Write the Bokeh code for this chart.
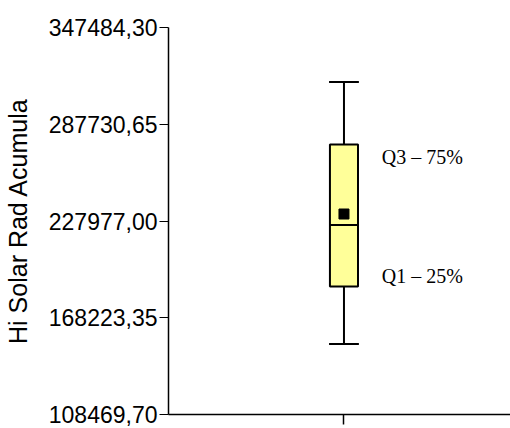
from bokeh.plotting import figure
from bokeh.models import Range1d, FixedTicker
from bokeh.embed import file_html
from bokeh.resources import INLINE
from bokeh.core.properties import value

# ---- data ----
y_ticks = [108469.70, 168223.35, 227977.00, 287730.65, 347484.30]
y_tick_labels = ["108469,70", "168223,35", "227977,00", "287730,65", "347484,30"]
y_title = "Hi Solar Rad Acumula"

box_x = [1.0]
whisker_low = [151980]
q1 = [187530]
median = [225500]
mean = [232300]
q3 = [275170]
whisker_high = [313780]

ann_text = ["Q3 – 75%", "Q1 – 25%"]
ann_y = [267200, 194300]

# ---- styling / layout ----
BOX_W = 0.16
CAP_W = 0.17
ANN_DX = 0.215

p = figure(width=510, height=428, output_backend="svg", toolbar_location=None,
           x_range=Range1d(0, 1.949), y_range=Range1d(y_ticks[0], y_ticks[-1]),
           min_border_left=167, min_border_right=0, min_border_top=27,
           min_border_bottom=14)
p.outline_line_color = None
p.xgrid.visible = False
p.ygrid.visible = False
p.background_fill_color = "white"
p.border_fill_color = "white"

# y axis
yax = p.yaxis[0]
yax.ticker = FixedTicker(ticks=y_ticks)
yax.major_label_overrides = {t: l for t, l in zip(y_ticks, y_tick_labels)}
yax.major_label_text_font = "Liberation Sans"
yax.major_label_text_font_size = "23px"
yax.major_label_text_color = "black"
yax.major_label_standoff = 2
yax.major_tick_out = 9
yax.major_tick_in = 0
yax.minor_tick_out = 0
yax.minor_tick_in = 0
yax.major_tick_line_color = "black"
yax.axis_line_color = "black"
yax.axis_line_width = 1.5
yax.axis_label = y_title
yax.axis_label_text_font = "Liberation Sans"
yax.axis_label_text_font_size = "25px"
yax.axis_label_text_font_style = "normal"
yax.axis_label_text_color = "black"
yax.axis_label_text_line_height = 1.0
yax.axis_label_standoff = 14

# x axis
xax = p.xaxis[0]
xax.ticker = FixedTicker(ticks=box_x)
xax.major_label_overrides = {box_x[0]: ""}
xax.major_label_text_font_size = "0px"
xax.major_label_standoff = 0
xax.major_tick_out = 10
xax.major_tick_in = 0
xax.minor_tick_out = 0
xax.minor_tick_in = 0
xax.major_tick_line_color = "black"
xax.major_tick_line_width = 1.5
xax.axis_line_color = "black"
xax.axis_line_width = 1.5

x0 = [x - CAP_W / 2 for x in box_x]
x1 = [x + CAP_W / 2 for x in box_x]

# whiskers
p.segment(x0=box_x, y0=q3, x1=box_x, y1=whisker_high, line_color="black", line_width=2)
p.segment(x0=box_x, y0=q1, x1=box_x, y1=whisker_low, line_color="black", line_width=2)
p.segment(x0=x0, y0=whisker_high, x1=x1, y1=whisker_high, line_color="black", line_width=2)
p.segment(x0=x0, y0=whisker_low, x1=x1, y1=whisker_low, line_color="black", line_width=2)

# box
p.vbar(x=box_x, width=BOX_W, bottom=q1, top=q3, fill_color="#ffff99",
       line_color="black", line_width=2)
# median
p.segment(x0=[x - BOX_W / 2 for x in box_x], y0=median, x1=x1, y1=median,
          line_color="black", line_width=2)
# mean
p.scatter(x=box_x, y=mean, marker="square", size=10, fill_color="black",
          line_color="black")

# annotations
p.text(x=[box_x[0] + ANN_DX] * len(ann_text), y=ann_y, text=ann_text,
       text_align="left", text_baseline="middle",
       text_font=value("Liberation Serif"), text_font_size="20px", text_color="black")

open("out.html", "w").write(file_html(p, INLINE))
